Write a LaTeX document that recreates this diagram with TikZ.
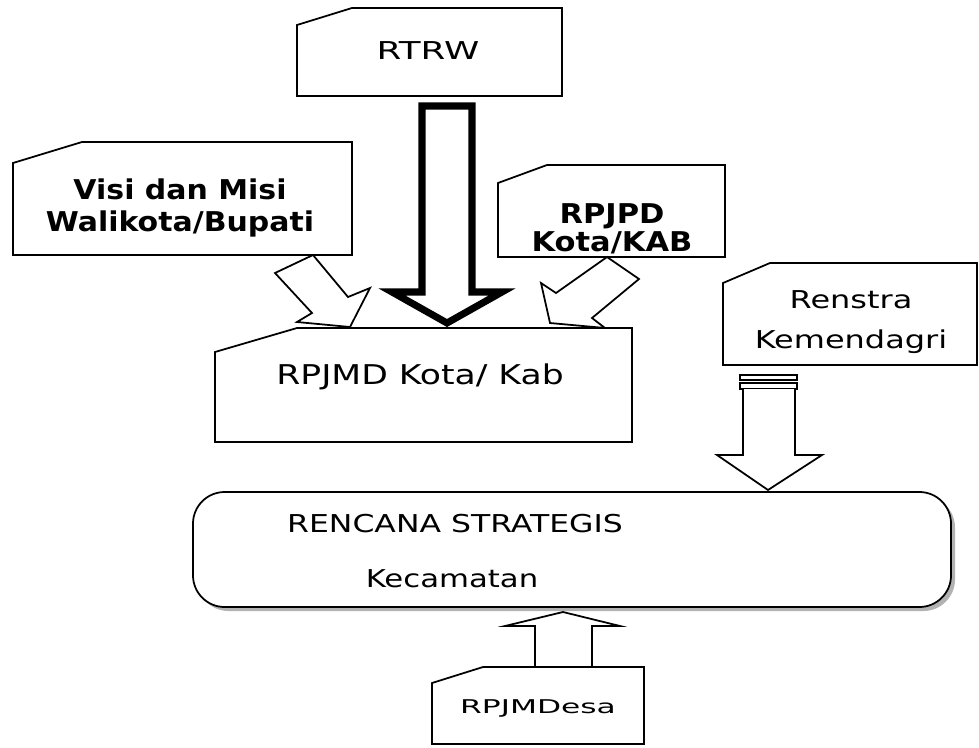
\documentclass[tikz,border=0pt]{standalone}
\usepackage{fontspec}
\setmainfont{DejaVu Sans}
\usepackage{graphicx}
\newcommand\wide[2][1.3]{\scalebox{#1}[1]{#2}}
\tikzset{
  box/.style={draw, line width=1pt, fill=white, line join=miter},
  blk/.style={draw, line width=1pt, fill=white, line join=miter},
  lbl/.style={inner sep=0pt, font=\fontsize{14}{22.7}\selectfont},
  lblb/.style={inner sep=0pt, font=\fontsize{15.5}{18}\selectfont\bfseries},
}
\begin{document}
\begin{tikzpicture}[x=0.02cm, y=-0.02cm]
  \useasboundingbox (0,0) rectangle (979,747);
  % boxes with cut corner
  \draw[box] (297,25)--(352,8)--(562,8)--(562,96)--(297,96)--cycle;
  \draw[box] (13,163)--(82,142)--(352,142)--(352,255)--(13,255)--cycle;
  \draw[box] (498,183)--(547,165)--(725,165)--(725,257)--(498,257)--cycle;
  \draw[box] (723,283)--(770,263)--(977,263)--(977,365)--(723,365)--cycle;
  % hollow arrows
  \draw[blk] (313,255)--(348,297)--(370,288)--(350,327)--(297,322)--(312,313)--(275,273)--cycle;
  \draw[blk] (607,257)--(639,279)--(592,318)--(605,328)--(550,323)--(541,283)--(556,293)--cycle;
  \draw[box] (215,352)--(297,328)--(632,328)--(632,442)--(215,442)--cycle;
  \draw[line width=4pt, fill=white, line join=miter]
    (422,106)--(422,292)--(392,292)--(447,323)--(502,292)--(472,292)--(472,106)--cycle;
  % renstra arrow
  \draw[blk] (740,375) rectangle (797,380);
  \draw[blk] (740,383) rectangle (797,389);
  \draw[blk] (743,389)--(743,455)--(717,455)--(768,490)--(822,455)--(795,455)--(795,389);
  % rencana strategis
  \fill[gray!60, rounded corners=18] (197,496) rectangle (955,611);
  \draw[box, rounded corners=18] (193,492) rectangle (951,607);
  % desa
  \draw[blk] (535,667)--(535,626)--(505,626)--(563,612)--(620,626)--(592,626)--(592,667);
  \draw[box] (432,683)--(483,667)--(644,667)--(644,744)--(432,744)--cycle;
  % texts
  \node[lbl] (rtrw) at (428,51) {\wide[1.45]{RTRW}};
  \node[lblb, align=center] (visi) at (180,208) {\wide[1.1]{Visi dan Misi}\\\wide[1.1]{Walikota/Bupati}};
  \node[lblb, align=center, font=\fontsize{15.5}{16}\selectfont\bfseries] (rpjpd) at (612,229) {\wide[1.12]{RPJPD}\\\wide[1.12]{Kota/KAB}};
  \node[lbl, font=\fontsize{15.5}{18}\selectfont] (rpjmd) at (420,377) {\wide[1.27]{RPJMD Kota/ Kab}};
  \node[lbl, align=center] (renstra) at (851,322) {\wide{Renstra}\\\wide{Kemendagri}};
  \node[lbl] (rencana) at (455,524) {\wide[1.28]{RENCANA STRATEGIS}};
  \node[lbl] (kec) at (452,579) {\wide[1.25]{Kecamatan}};
  \node[lbl, font=\fontsize{10.8}{13}\selectfont] (desa) at (538,708) {\wide[1.65]{RPJMDesa}};
\end{tikzpicture}
\end{document}
